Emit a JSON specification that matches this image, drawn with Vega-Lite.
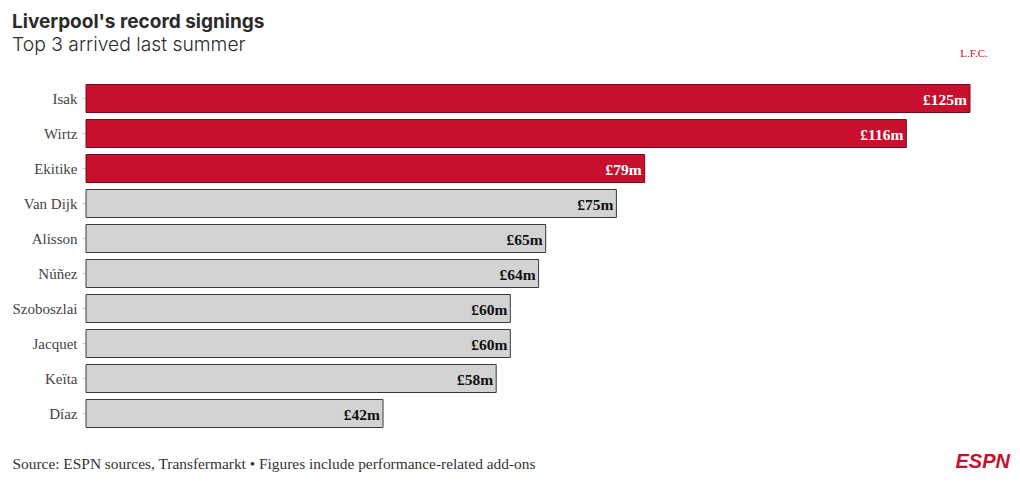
{
  "$schema": "https://vega.github.io/schema/vega-lite/v6.json",
  "width": 884,
  "height": 350,
  "autosize": {"type": "none"},
  "padding": {"left": 86, "top": 81, "right": 50, "bottom": 53},
  "background": "white",
  "title": {
    "text": "Liverpool's record signings",
    "subtitle": "Top 3 arrived last summer",
    "anchor": "start",
    "frame": "group",
    "dx": -74,
    "offset": -8,
    "font": "Inter",
    "fontSize": 19,
    "fontWeight": 700,
    "color": "#2b2b2b",
    "subtitleFont": "Inter",
    "subtitleFontSize": 19.3,
    "subtitleFontWeight": 300,
    "subtitleColor": "#2b2b2b",
    "subtitlePadding": 4
  },
  "config": {"view": {"stroke": null}},
  "datasets": {
    "players": [
      {"player": "Isak", "fee": 125, "label": "£125m", "group": "recent"},
      {"player": "Wirtz", "fee": 116, "label": "£116m", "group": "recent"},
      {"player": "Ekitike", "fee": 79, "label": "£79m", "group": "recent"},
      {"player": "Van Dijk", "fee": 75, "label": "£75m", "group": "earlier"},
      {"player": "Alisson", "fee": 65, "label": "£65m", "group": "earlier"},
      {"player": "Núñez", "fee": 64, "label": "£64m", "group": "earlier"},
      {"player": "Szoboszlai", "fee": 60, "label": "£60m", "group": "earlier"},
      {"player": "Jacquet", "fee": 60, "label": "£60m", "group": "earlier"},
      {"player": "Keïta", "fee": 58, "label": "£58m", "group": "earlier"},
      {"player": "Díaz", "fee": 42, "label": "£42m", "group": "earlier"}
    ]
  },
  "layer": [
    {
      "data": {"name": "players"},
      "mark": {"type": "bar", "strokeWidth": 1},
      "encoding": {
        "y": {
          "field": "player",
          "type": "nominal",
          "sort": null,
          "scale": {"paddingInner": 0.2, "paddingOuter": 0.1},
          "axis": {
            "title": null,
            "domain": false,
            "ticks": true,
            "tickSize": 4,
            "tickColor": "#d0d0d0",
            "labelPadding": 5,
            "labelFont": "Liberation Serif",
            "labelFontSize": 15,
            "labelColor": "#444444"
          }
        },
        "x": {
          "field": "fee",
          "type": "quantitative",
          "scale": {"domain": [0, 125], "nice": false},
          "axis": {
            "labels": false,
            "ticks": false,
            "grid": false,
            "domain": false,
            "title": "Source: ESPN sources, Transfermarkt • Figures include performance-related add-ons",
            "titleAnchor": "start",
            "titleAlign": "left",
            "titleX": -74,
            "titleY": 37,
            "titleBaseline": "alphabetic",
            "titleFont": "Liberation Serif",
            "titleFontSize": 15.4,
            "titleFontWeight": "normal",
            "titleColor": "#333333"
          }
        },
        "color": {
          "field": "group",
          "type": "nominal",
          "scale": {"domain": ["recent", "earlier"], "range": ["#c8102e", "#d3d3d3"]},
          "legend": null
        },
        "stroke": {
          "field": "group",
          "type": "nominal",
          "scale": {"domain": ["recent", "earlier"], "range": ["#6e0d1c", "#3a3a3a"]},
          "legend": null
        }
      }
    },
    {
      "data": {"name": "players"},
      "mark": {
        "type": "text",
        "align": "right",
        "baseline": "middle",
        "dx": -3,
        "dy": 1,
        "font": "Liberation Serif",
        "fontSize": 15.5,
        "fontWeight": "bold"
      },
      "encoding": {
        "y": {"field": "player", "type": "nominal", "sort": null},
        "x": {"field": "fee", "type": "quantitative"},
        "text": {"field": "label"},
        "color": {
          "condition": {"test": "datum.group === 'recent'", "value": "#ffffff"},
          "value": "#111111"
        }
      }
    },
    {
      "data": {"values": [{"logo": "ESPN", "player": "Díaz", "fee": 125}]},
      "mark": {
        "type": "text",
        "align": "right",
        "baseline": "middle",
        "dx": 40,
        "dy": 48,
        "font": "Liberation Sans",
        "fontSize": 20,
        "fontWeight": "bold",
        "fontStyle": "italic",
        "color": "#c8102e"
      },
      "encoding": {
        "y": {"field": "player", "type": "nominal", "sort": null},
        "x": {"field": "fee", "type": "quantitative"},
        "text": {"field": "logo"}
      }
    },
    {
      "data": {"values": [{"logo": "L.F.C.", "player": "Isak", "fee": 125}]},
      "mark": {
        "type": "text",
        "align": "center",
        "baseline": "middle",
        "dx": 4,
        "dy": -45,
        "font": "Liberation Serif",
        "fontSize": 11,
        "color": "#c8102e"
      },
      "encoding": {
        "y": {"field": "player", "type": "nominal", "sort": null},
        "x": {"field": "fee", "type": "quantitative"},
        "text": {"field": "logo"}
      }
    }
  ]
}
